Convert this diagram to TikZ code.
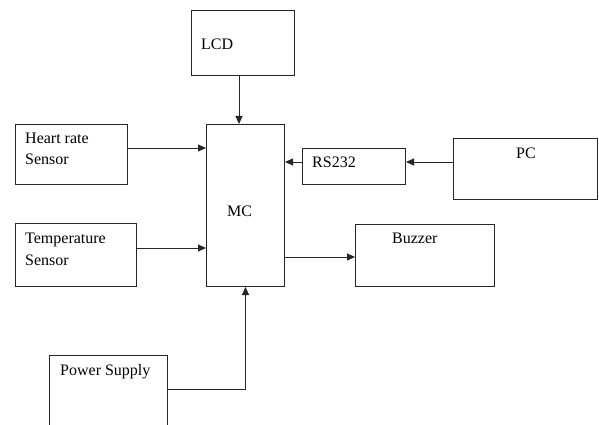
\documentclass[tikz,border=0pt]{standalone}
\usepackage{fontspec}
\setmainfont{Liberation Serif}
\usetikzlibrary{arrows.meta}
\begin{document}
\begin{tikzpicture}[x=1pt,y=-1pt,
  box/.style={draw=black!85,line width=1pt,inner sep=0pt,anchor=north west},
  lbl/.style={anchor=base west,inner sep=0pt,font=\fontsize{16}{20}\selectfont},
  conn/.style={draw=black!85,line width=1pt,-{Triangle[length=8pt,width=7pt]}}]
\useasboundingbox (0,0) rectangle (599,425);
\clip (0,0) rectangle (599,425);
\fill[white] (0,0) rectangle (599,425);
% boxes
\node[box,minimum width=103pt,minimum height=65pt] (lcd) at (191,10) {};
\node[box,minimum width=112pt,minimum height=60pt] (hr) at (15,124) {};
\node[box,minimum width=78pt,minimum height=162pt] (mc) at (206,124) {};
\node[box,minimum width=103pt,minimum height=36pt] (rs) at (302,148) {};
\node[box,minimum width=144pt,minimum height=61pt] (pc) at (453,138) {};
\node[box,minimum width=121pt,minimum height=63pt] (temp) at (15,223) {};
\node[box,minimum width=139pt,minimum height=62pt] (buz) at (355,224) {};
\node[box,minimum width=118pt,minimum height=90pt] (ps) at (49,355) {};
% labels
\node[lbl] (tlcd) at (201,50) {LCD};
\node[lbl] (thr1) at (25,143) {Heart rate};
\node[lbl] (thr2) at (25,164) {Sensor};
\node[lbl] (tmc) at (227,216) {MC};
\node[lbl] (trs) at (312,167) {RS232};
\node[lbl] (tpc) at (516,158) {PC};
\node[lbl] (tbuz) at (392,243) {Buzzer};
\node[lbl] (tt1) at (25,243) {Temperature};
\node[lbl] (tt2) at (25,265) {Sensor};
\node[lbl] (tps) at (60,375) {Power Supply};
% connectors
\draw[conn] (lcd.south -| 239,0) -- (mc.north -| 239,0);
\draw[conn] (hr.east |- 0,148) -- (mc.west |- 0,148);
\draw[conn] (temp.east |- 0,248) -- (mc.west |- 0,248);
\draw[conn] (rs.west |- 0,162) -- (mc.east |- 0,162);
\draw[conn] (pc.west |- 0,162) -- (rs.east |- 0,162);
\draw[conn] (mc.east |- 0,257) -- (buz.west |- 0,257);
\draw[conn] (ps.east |- 0,389) -| (mc.south);
\end{tikzpicture}
\end{document}
